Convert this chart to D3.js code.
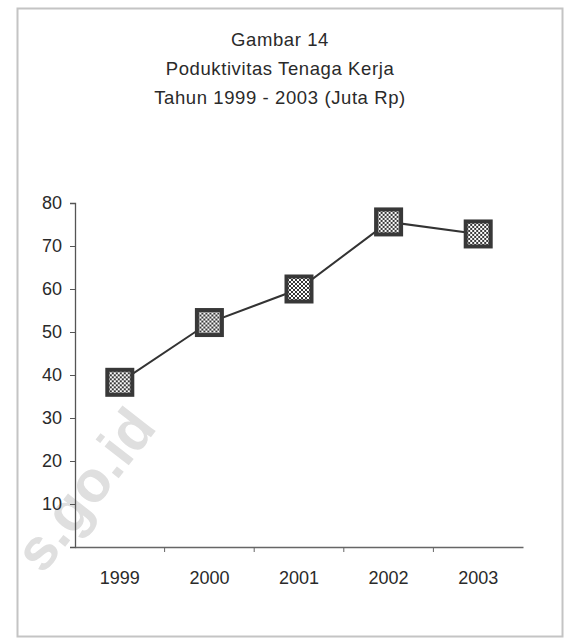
<!DOCTYPE html>
<html>
<head>
<meta charset="utf-8">
<script src="https://cdn.jsdelivr.net/npm/d3@7"></script>
<style>
  html, body { margin: 0; padding: 0; background: #fff; }
  svg { display: block; font-family: Arial, "Liberation Sans", sans-serif; }
</style>
</head>
<body>
<svg id="chart" width="572" height="639"></svg>
<script>
// Labour productivity, 1999-2003 (million Rp)
const titleLines = ["Gambar 14", "Poduktivitas Tenaga Kerja", "Tahun 1999 - 2003 (Juta Rp)"];
const years = ["1999", "2000", "2001", "2002", "2003"];
const productivity = [38.3, 52.2, 60.0, 75.6, 72.8];
const yTicks = [0, 10, 20, 30, 40, 50, 60, 70, 80];
const watermark = "s.go.id";

const svg = d3.select("#chart");
const plot = { left: 75, right: 523, top: 203, bottom: 547 };

// checkered fill for the square markers
const defs = svg.append("defs");
const pat = defs.append("pattern")
  .attr("id", "checker").attr("patternUnits", "userSpaceOnUse")
  .attr("width", 4).attr("height", 4);
pat.append("rect").attr("width", 4).attr("height", 4).attr("fill", "#383838");
pat.append("rect").attr("x", 0).attr("y", 0).attr("width", 2).attr("height", 2).attr("fill", "#ffffff");
pat.append("rect").attr("x", 2).attr("y", 2).attr("width", 2).attr("height", 2).attr("fill", "#ffffff");

// watermark
svg.append("text")
  .attr("transform", "translate(158,428) rotate(-52)")
  .attr("text-anchor", "end")
  .attr("font-size", 58).attr("font-weight", "bold")
  .attr("fill", "#dfdfdf")
  .text(watermark);

// outer frame
svg.append("rect")
  .attr("x", 17.5).attr("y", 8.5).attr("width", 545).attr("height", 628)
  .attr("fill", "none").attr("stroke", "#c4c4c4").attr("stroke-width", 2);

// title
const title = svg.append("text")
  .attr("text-anchor", "middle")
  .attr("font-size", 18.5).attr("letter-spacing", 0.6)
  .attr("fill", "#2a2a2a");
titleLines.forEach((t, i) => {
  title.append("tspan").attr("x", 280).attr("y", 46 + i * 29).text(t);
});

const x = d3.scaleBand().domain(years).range([plot.left, plot.right]).padding(0);
const y = d3.scaleLinear().domain([0, 80]).range([plot.bottom, plot.top]);

// y axis
const yAxis = svg.append("g")
  .attr("transform", `translate(${plot.left},0)`)
  .call(d3.axisLeft(y).tickValues(yTicks).tickSize(5).tickPadding(8)
    .tickFormat(d => d === 0 ? "" : d));
yAxis.select(".domain").attr("stroke", "#555").attr("stroke-width", 1.3);
yAxis.selectAll(".tick line").attr("stroke", "#555");
yAxis.selectAll(".tick text")
  .attr("font-size", 18).attr("fill", "#2a2a2a")
  .attr("font-family", "Arial, 'Liberation Sans', sans-serif");

// x axis with ticks on the category boundaries
const xAxis = svg.append("g")
  .attr("transform", `translate(0,${plot.bottom})`)
  .call(d3.axisBottom(x).tickSize(0).tickPadding(24));
xAxis.select(".domain").attr("stroke", "#666").attr("stroke-width", 1.3);
xAxis.selectAll(".tick text")
  .attr("font-size", 18).attr("fill", "#2a2a2a")
  .attr("font-family", "Arial, 'Liberation Sans', sans-serif");
svg.append("g").selectAll("line")
  .data(years.slice(1))
  .join("line")
  .attr("x1", d => x(d)).attr("x2", d => x(d))
  .attr("y1", plot.bottom).attr("y2", plot.bottom + 5)
  .attr("stroke", "#666");

// series line
const pts = years.map((yr, i) => [x(yr) + x.bandwidth() / 2, y(productivity[i])]);
svg.append("path")
  .attr("d", d3.line()(pts))
  .attr("fill", "none").attr("stroke", "#333").attr("stroke-width", 2);

// square markers
const S = 29;
const mk = svg.append("g").selectAll("g").data(pts).join("g")
  .attr("transform", d => `translate(${d[0]},${d[1]})`);
mk.append("rect")
  .attr("x", -S / 2).attr("y", -S / 2).attr("width", S).attr("height", S)
  .attr("fill", "#383838");
mk.append("rect")
  .attr("x", -S / 2 + 4).attr("y", -S / 2 + 4).attr("width", S - 8).attr("height", S - 8)
  .attr("fill", "url(#checker)");
</script>
</body>
</html>
